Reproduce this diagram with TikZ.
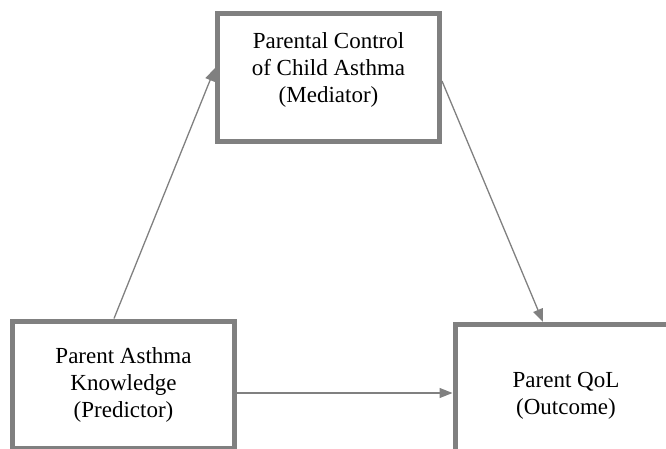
\documentclass[tikz,border=0pt]{standalone}
\usepackage{fontspec}
\setmainfont{Liberation Serif}
\usetikzlibrary{arrows.meta}
\tikzset{
	kasten/.style={
			draw=black!50, line width=5pt,
			minimum width=222pt, minimum height=127pt,
			inner sep=0pt, align=center,
			font=\fontsize{23}{27}\selectfont
		},
	pfeil/.style={
			draw=black!50, line width=1.3pt,
			-{Triangle[length=13pt,width=10pt]}
		}
}

\begin{document}
\begin{tikzpicture}[x=1pt,y=1pt]
        % Rahmen festlegen
        \useasboundingbox (0,0) rectangle (666,448);
        \clip (0,0) rectangle (666,448);
        % Kaesten zeichnen
        \node[kasten, text depth=19pt] (mediator) at (328.5,370.5) {Parental Control\\of Child Asthma\\(Mediator)};
        \node[kasten] (predictor) at (123.5,63.5) {Parent Asthma\\Knowledge\\(Predictor)};
        \node[kasten, text height=57pt] (outcome) at (566,60) {Parent QoL\\(Outcome)};
        % Pfeile zeichnen
        \draw[pfeil] ([xshift=-9.5pt]predictor.north) -- ([yshift=9.5pt]mediator.west);
        \draw[pfeil] ([yshift=-3.5pt]mediator.east) -- ([xshift=-23pt]outcome.north);
        \draw[pfeil] ([yshift=-8.5pt]predictor.east) -- ([yshift=-8.5pt]predictor.east -| outcome.west);
    \end{tikzpicture}
\end{document}
